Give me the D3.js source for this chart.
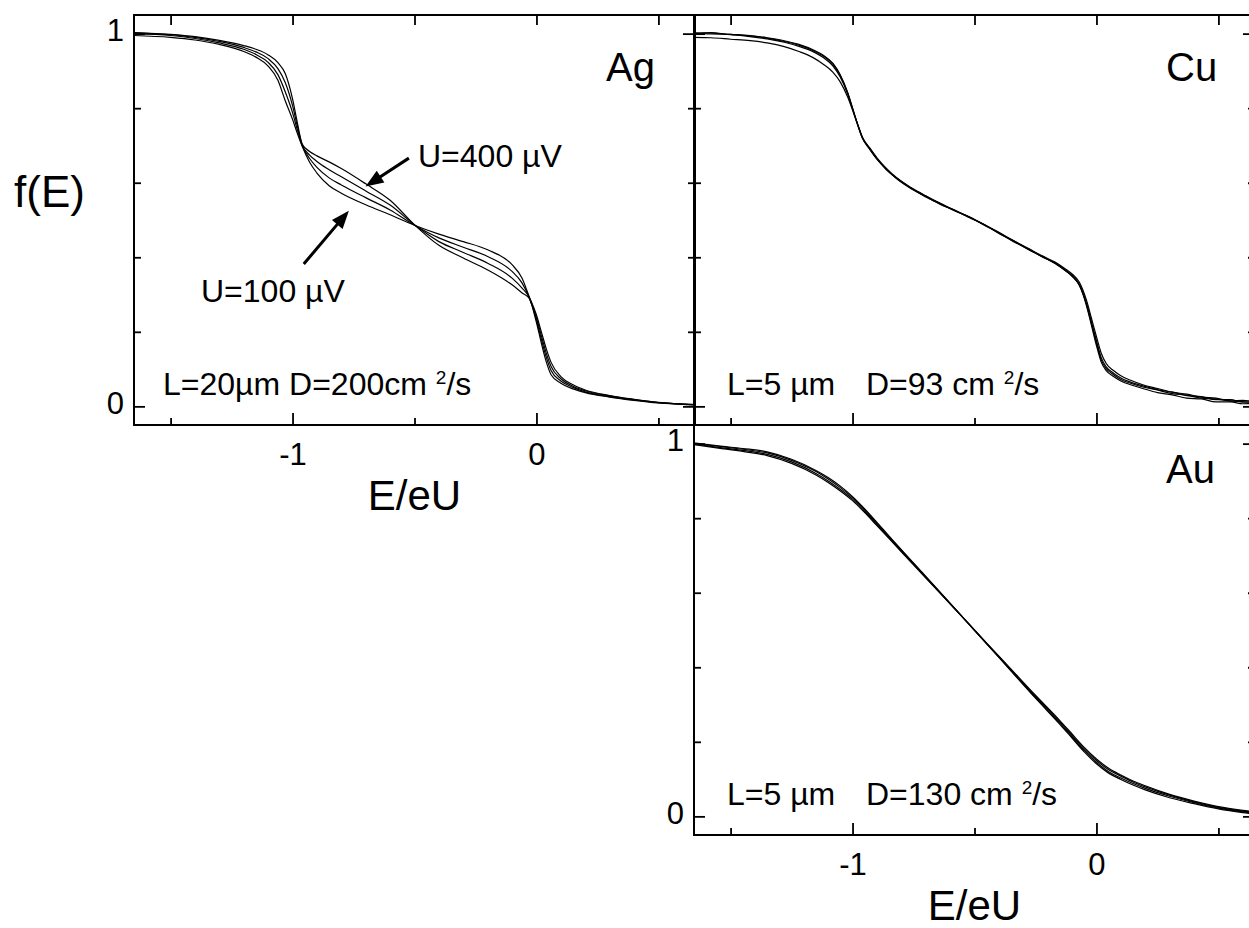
<!DOCTYPE html>
<html>
<head>
<meta charset="utf-8">
<title>f(E) for Ag, Cu and Au wires</title>
<script src="https://cdn.jsdelivr.net/npm/d3@7/dist/d3.min.js"></script>
<style>
  body { margin: 0; background: #fff; }
  text { font-family: "Liberation Sans", Arial, sans-serif; fill: #000; }
</style>
</head>
<body>
<script>

// ---- data ----

const xDomain = [-1.65, 0.65];
const yDomain = [-0.05, 1.05];
const xMajor = [-1, 0];
const xMinor = [-1.5, -0.5, 0.5];
const yMajor = [0, 1];
const yMinor = [0.2, 0.4, 0.6, 0.8];

// Ag, U = 400 / 300 / 200 / 100 uV
const agX = [-1.65, -1.5, -1.4, -1.3, -1.2, -1.15, -1.1, -1.06, -1.03, -1.0, -0.98, -0.96, -0.93, -0.9, -0.85, -0.8,
  -0.7, -0.6, -0.5, -0.4, -0.3, -0.2, -0.1, -0.06, -0.03, 0.0, 0.02, 0.04, 0.06, 0.1, 0.15, 0.2, 0.3, 0.4, 0.5, 0.65];
const ag400 = [1.003, 0.998, 0.992, 0.982, 0.968, 0.958, 0.943, 0.922, 0.893, 0.825, 0.76, 0.703, 0.684, 0.672, 0.656, 0.638,
  0.597, 0.553, 0.487, 0.432, 0.398, 0.366, 0.326, 0.305, 0.29, 0.225, 0.17, 0.12, 0.085, 0.062, 0.047, 0.037, 0.025, 0.016, 0.009, 0.004];
const ag300 = [1.002, 0.997, 0.990, 0.979, 0.963, 0.951, 0.933, 0.906, 0.869, 0.807, 0.751, 0.701, 0.674, 0.657, 0.635, 0.616,
  0.578, 0.54, 0.487, 0.442, 0.413, 0.384, 0.344, 0.318, 0.292, 0.232, 0.18, 0.132, 0.096, 0.068, 0.051, 0.039, 0.026, 0.017, 0.01, 0.004];
const ag200 = [1.0, 0.995, 0.987, 0.975, 0.958, 0.944, 0.923, 0.89, 0.844, 0.788, 0.741, 0.699, 0.665, 0.641, 0.613, 0.594,
  0.56, 0.527, 0.486, 0.452, 0.427, 0.402, 0.362, 0.332, 0.293, 0.238, 0.19, 0.143, 0.107, 0.074, 0.054, 0.042, 0.028, 0.018, 0.01, 0.005];
const ag100 = [0.995, 0.99, 0.983, 0.971, 0.952, 0.937, 0.913, 0.875, 0.82, 0.77, 0.732, 0.697, 0.655, 0.626, 0.592, 0.572,
  0.541, 0.514, 0.486, 0.462, 0.442, 0.42, 0.38, 0.345, 0.295, 0.245, 0.2, 0.155, 0.118, 0.08, 0.058, 0.044, 0.029, 0.019, 0.011, 0.005];

// Cu, four bias voltages
const cuX = [-1.65, -1.58, -1.5, -1.42, -1.35, -1.28, -1.22, -1.16, -1.12, -1.08, -1.05, -1.02, -1.0, -0.98, -0.96, -0.93,
  -0.9, -0.86, -0.82, -0.76, -0.7, -0.64, -0.58, -0.52, -0.46, -0.4, -0.34, -0.28, -0.22, -0.17, -0.13, -0.1, -0.07,
  -0.04, -0.02, 0.0, 0.02, 0.04, 0.07, 0.1, 0.14, 0.19, 0.25, 0.31, 0.37, 0.43, 0.49, 0.55, 0.6, 0.65];
const cuA = [1.002, 1.001, 0.998, 0.995, 0.989, 0.981, 0.971, 0.956, 0.942, 0.92, 0.889, 0.842, 0.80, 0.757, 0.72, 0.69,
  0.663, 0.635, 0.611, 0.584, 0.563, 0.542, 0.526, 0.506, 0.488, 0.464, 0.444, 0.421, 0.402, 0.384, 0.367, 0.35, 0.324,
  0.268, 0.216, 0.163, 0.118, 0.096, 0.08, 0.068, 0.058, 0.048, 0.037, 0.031, 0.022, 0.02, 0.012, 0.012, 0.007, 0.008];
const cuB = [1.0, 1.003, 0.997, 0.994, 0.988, 0.979, 0.969, 0.954, 0.94, 0.917, 0.887, 0.841, 0.80, 0.759, 0.722, 0.692,
  0.665, 0.634, 0.613, 0.586, 0.562, 0.544, 0.524, 0.508, 0.486, 0.466, 0.442, 0.423, 0.4, 0.385, 0.365, 0.351, 0.327,
  0.272, 0.221, 0.17, 0.124, 0.101, 0.085, 0.072, 0.062, 0.052, 0.044, 0.034, 0.03, 0.022, 0.02, 0.014, 0.013, 0.01];
const cuC = [1.001, 0.999, 0.998, 0.992, 0.986, 0.977, 0.966, 0.951, 0.936, 0.913, 0.883, 0.838, 0.798, 0.758, 0.721, 0.691,
  0.664, 0.636, 0.612, 0.585, 0.564, 0.543, 0.525, 0.507, 0.487, 0.465, 0.443, 0.422, 0.401, 0.383, 0.366, 0.349, 0.326,
  0.274, 0.225, 0.176, 0.13, 0.106, 0.089, 0.076, 0.065, 0.055, 0.045, 0.038, 0.029, 0.026, 0.018, 0.018, 0.011, 0.013];
const cuD = [0.99, 0.989, 0.985, 0.981, 0.975, 0.965, 0.952, 0.935, 0.918, 0.896, 0.87, 0.83, 0.795, 0.758, 0.723, 0.694,
  0.667, 0.638, 0.614, 0.587, 0.565, 0.545, 0.526, 0.508, 0.488, 0.467, 0.445, 0.424, 0.403, 0.387, 0.37, 0.355, 0.333,
  0.283, 0.235, 0.187, 0.142, 0.115, 0.096, 0.082, 0.07, 0.058, 0.048, 0.038, 0.033, 0.025, 0.022, 0.015, 0.016, 0.012];

// Au, four bias voltages
const auX = [-1.65, -1.55, -1.45, -1.35, -1.25, -1.15, -1.1, -1.05, -1.0, -0.95, -0.9, -0.85, -0.75, -0.65, -0.55,
  -0.45, -0.35, -0.25, -0.15, -0.1, -0.05, 0.0, 0.05, 0.1, 0.15, 0.2, 0.3, 0.4, 0.5, 0.6, 0.65];
const auA = [1.002, 0.994, 0.987, 0.978, 0.958, 0.928, 0.909, 0.886, 0.858, 0.825, 0.789, 0.752, 0.68, 0.608, 0.536,
  0.463, 0.39, 0.317, 0.247, 0.21, 0.173, 0.141, 0.116, 0.099, 0.084, 0.071, 0.05, 0.034, 0.02, 0.01, 0.006];
const auB = [1.0, 0.993, 0.985, 0.975, 0.955, 0.925, 0.905, 0.882, 0.855, 0.822, 0.786, 0.75, 0.678, 0.607, 0.535,
  0.463, 0.391, 0.319, 0.25, 0.213, 0.177, 0.145, 0.12, 0.103, 0.088, 0.075, 0.054, 0.037, 0.022, 0.012, 0.008];
const auC = [0.999, 0.99, 0.982, 0.971, 0.951, 0.92, 0.9, 0.877, 0.851, 0.818, 0.783, 0.747, 0.676, 0.606, 0.535,
  0.464, 0.393, 0.322, 0.254, 0.217, 0.181, 0.15, 0.125, 0.108, 0.092, 0.079, 0.057, 0.039, 0.024, 0.014, 0.01];
const auD = [0.997, 0.988, 0.979, 0.968, 0.947, 0.916, 0.896, 0.873, 0.847, 0.815, 0.78, 0.745, 0.675, 0.605, 0.535,
  0.465, 0.395, 0.325, 0.257, 0.221, 0.185, 0.154, 0.129, 0.111, 0.095, 0.082, 0.059, 0.041, 0.026, 0.016, 0.012];

// ---- layout ----
const width = 1249, height = 928;
const pw = 561, ph = 410;
const tickFont = 31;

const svg = d3.select("body").append("svg")
  .attr("width", width)
  .attr("height", height);

const panels = [
  { name: "Ag", left: 134, top: 15, xs: agX, series: [ag400, ag300, ag200, ag100],
    yLabels: true, xLabels: true, topTicks: true, labelY: 66,
    note: ["L=20µm D=200cm ", null] },
  { name: "Cu", left: 694, top: 15, xs: cuX, series: [cuA, cuB, cuC, cuD],
    yLabels: false, xLabels: false, topTicks: true, labelY: 66,
    note: ["L=5 µm", "D=93 cm "] },
  { name: "Au", left: 694, top: 425, xs: auX, series: [auA, auB, auC, auD],
    yLabels: true, xLabels: true, topTicks: false, labelY: 58,
    note: ["L=5 µm", "D=130 cm "] }
];

const fmt = d => String(d);

function styleAxis(g) {
  g.select(".domain").remove();
  g.selectAll("line").attr("stroke", "#000").attr("stroke-width", 1.8);
  g.selectAll("text").attr("font-size", tickFont).attr("fill", "#000")
    .style("font-family", '"Liberation Sans", Arial, sans-serif');
}

function drawPanel(p) {
  const x = d3.scaleLinear().domain(xDomain).range([p.left, p.left + pw]);
  const y = d3.scaleLinear().domain(yDomain).range([p.top + ph, p.top]);
  p.x = x; p.y = y;

  svg.append("clipPath").attr("id", "clip-" + p.name)
    .append("rect")
    .attr("x", p.left).attr("y", p.top)
    .attr("width", pw).attr("height", ph);

  const line = d3.line()
    .x((d, i) => x(p.xs[i]))
    .y(d => y(d))
    .curve(d3.curveMonotoneX);

  svg.append("g")
    .attr("clip-path", `url(#clip-${p.name})`)
    .selectAll("path")
    .data(p.series)
    .join("path")
    .attr("d", d => line(d))
    .attr("fill", "none")
    .attr("stroke", "#000")
    .attr("stroke-width", 1.2);

  // left axis
  svg.append("g").attr("transform", `translate(${p.left},0)`)
    .call(d3.axisLeft(y).tickValues(yMajor).tickSize(-11).tickSizeOuter(0).tickPadding(10)
      .tickFormat(p.yLabels ? fmt : ""))
    .call(styleAxis)
    .call(g => g.selectAll("text").attr("dy", "0.22em"));
  svg.append("g").attr("transform", `translate(${p.left},0)`)
    .call(d3.axisLeft(y).tickValues(yMinor).tickSize(-7).tickSizeOuter(0).tickFormat(""))
    .call(styleAxis);

  // right axis
  svg.append("g").attr("transform", `translate(${p.left + pw},0)`)
    .call(d3.axisRight(y).tickValues(yMajor).tickSize(-12).tickSizeOuter(0).tickFormat(""))
    .call(styleAxis);
  svg.append("g").attr("transform", `translate(${p.left + pw},0)`)
    .call(d3.axisRight(y).tickValues(yMinor).tickSize(-7).tickSizeOuter(0).tickFormat(""))
    .call(styleAxis);

  // bottom axis
  svg.append("g").attr("transform", `translate(0,${p.top + ph})`)
    .call(d3.axisBottom(x).tickValues(xMajor).tickSize(-12).tickSizeOuter(0).tickPadding(18)
      .tickFormat(p.xLabels ? fmt : ""))
    .call(styleAxis);
  svg.append("g").attr("transform", `translate(0,${p.top + ph})`)
    .call(d3.axisBottom(x).tickValues(xMinor).tickSize(-7).tickSizeOuter(0).tickFormat(""))
    .call(styleAxis);

  // top axis
  if (p.topTicks) {
    svg.append("g").attr("transform", `translate(0,${p.top})`)
      .call(d3.axisTop(x).tickValues(xMajor.concat(xMinor)).tickSize(-10).tickSizeOuter(0).tickFormat(""))
      .call(styleAxis);
  }

  // frame
  svg.append("rect")
    .attr("x", p.left).attr("y", p.top)
    .attr("width", pw).attr("height", ph)
    .attr("fill", "none")
    .attr("stroke", "#000")
    .attr("stroke-width", 2);

  // metal label
  svg.append("text")
    .attr("x", p.left + 472).attr("y", p.top + p.labelY)
    .attr("font-size", 40)
    .text(p.name);

  // sample parameters
  const noteY = y(0) - 11;
  const t = svg.append("text")
    .attr("y", noteY)
    .attr("font-size", 32)
    .style("white-space", "pre");
  if (p.note[1] === null) {
    t.append("tspan").attr("x", p.left + 29).text(p.note[0]);
  } else {
    t.append("tspan").attr("x", p.left + 33).text(p.note[0]);
    t.append("tspan").attr("x", p.left + 172).text(p.note[1]);
  }
  t.append("tspan").attr("font-size", 19).attr("dy", -11).text("2");
  t.append("tspan").attr("dy", 11).text("/s");
}

panels.forEach(drawPanel);

// axis titles
svg.append("text")
  .attr("x", 14).attr("y", 207)
  .attr("font-size", 44)
  .text("f(E)");

[panels[0], panels[2]].forEach(p => {
  svg.append("text")
    .attr("x", p.left + pw / 2).attr("y", p.top + ph + 85)
    .attr("text-anchor", "middle")
    .attr("font-size", 42)
    .text("E/eU");
});

// bias annotations with arrows (Ag panel)
const ag = panels[0];
const arrows = [
  { text: "U=400 µV", tx: 418, ty: 167, from: [-0.523, 0.666], to: [-0.701, 0.590] },
  { text: "U=100 µV", tx: 201, ty: 302, from: [-0.954, 0.382], to: [-0.769, 0.525] }
];

arrows.forEach(a => {
  const sx = ag.x(a.from[0]), sy = ag.y(a.from[1]);
  const ex = ag.x(a.to[0]), ey = ag.y(a.to[1]);
  const len = Math.hypot(ex - sx, ey - sy);
  const ux = (ex - sx) / len, uy = (ey - sy) / len;
  const hl = 18, hw = 7;
  const bx = ex - ux * hl, by = ey - uy * hl;
  svg.append("line")
    .attr("x1", sx).attr("y1", sy).attr("x2", bx + ux * 2).attr("y2", by + uy * 2)
    .attr("stroke", "#000").attr("stroke-width", 3);
  svg.append("polygon")
    .attr("points", [[ex, ey], [bx - uy * hw, by + ux * hw], [bx + uy * hw, by - ux * hw]].map(q => q.join(",")).join(" "))
    .attr("fill", "#000");
  svg.append("text")
    .attr("x", a.tx).attr("y", a.ty)
    .attr("font-size", 32)
    .text(a.text);
});

</script>
</body>
</html>
